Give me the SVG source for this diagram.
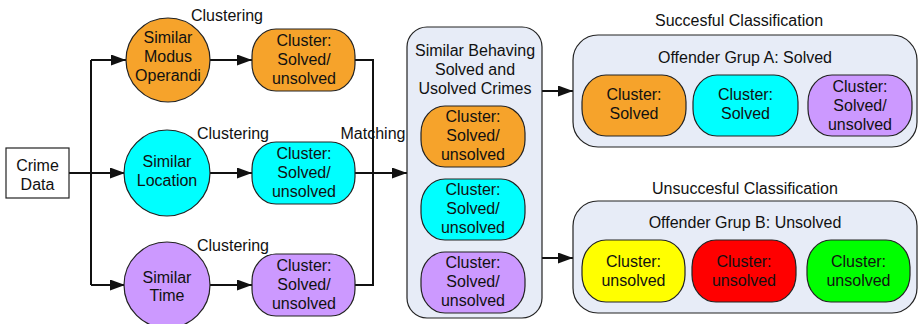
<svg xmlns="http://www.w3.org/2000/svg" width="919" height="324" viewBox="0 0 919 324">
  <defs>
    <marker id="arrow" markerWidth="15" markerHeight="11" refX="15" refY="5.5" orient="auto" markerUnits="userSpaceOnUse">
      <path d="M0,0 L15,5.5 L0,11 Z" fill="#111"/>
    </marker>
    <style>
      text { font-family: "Liberation Sans", Arial, sans-serif; font-size: 16px; fill: #111; text-anchor: middle; }
      .shape { stroke: #222; stroke-width: 1.2; }
      .orange { fill: #F6A32B; }
      .cyan { fill: #00FFFF; }
      .purple { fill: #CC99FF; }
      .yellow { fill: #FFFF00; }
      .red { fill: #FF0000; }
      .green { fill: #00FF00; }
      .panel { fill: #E7ECF7; stroke: #222; stroke-width: 1.2; }
      .link { fill: none; stroke: #111; stroke-width: 2; }
      .arr { marker-end: url(#arrow); }
    </style>
  </defs>
  <rect width="919" height="324" fill="#fff"/>

  <!-- connectors -->
  <g id="connectors">
    <path class="link" d="M69,173 H91 M91,60 V285"/>
    <path class="link arr" d="M91,60 H126"/>
    <path class="link arr" d="M91,173 H125"/>
    <path class="link arr" d="M91,285 H125"/>
    <path class="link arr" d="M210,60 H252"/>
    <path class="link arr" d="M210,173 H252"/>
    <path class="link arr" d="M210,285 H252"/>
    <path class="link" d="M355,60 H373 V285 H355"/>
    <path class="link arr" d="M355,173 H407"/>
    <path class="link arr" d="M542,91 H573"/>
    <path class="link arr" d="M542,258 H573"/>
  </g>

  <!-- source -->
  <g id="crime-data">
    <rect x="6" y="148" width="63" height="50" fill="#fff" class="shape"/>
    <text x="37.5" y="171">Crime</text>
    <text x="37.5" y="190">Data</text>
  </g>

  <!-- similarity criteria -->
  <g id="modus">
    <circle cx="168" cy="60" r="42" class="shape orange"/>
    <text x="168" y="43">Similar</text>
    <text x="168" y="62">Modus</text>
    <text x="168" y="81">Operandi</text>
  </g>
  <g id="location">
    <circle cx="167" cy="173" r="43" class="shape cyan"/>
    <text x="167" y="167">Similar</text>
    <text x="167" y="186">Location</text>
  </g>
  <g id="time">
    <circle cx="167" cy="285" r="43" class="shape purple"/>
    <text x="167" y="283">Similar</text>
    <text x="167" y="301">Time</text>
  </g>

  <!-- edge labels -->
  <g id="labels">
    <text x="227" y="20.5">Clustering</text>
    <text x="233" y="139">Clustering</text>
    <text x="233" y="251">Clustering</text>
    <text x="373" y="139">Matching</text>
  </g>

  <!-- cluster results -->
  <g id="cluster-modus">
    <rect x="252" y="29" width="103" height="62" rx="24" ry="27" class="shape orange"/>
    <text x="304" y="46">Cluster:</text>
    <text x="304" y="65">Solved/</text>
    <text x="304" y="84">unsolved</text>
  </g>
  <g id="cluster-location">
    <rect x="252" y="142" width="103" height="62" rx="24" ry="27" class="shape cyan"/>
    <text x="304" y="159">Cluster:</text>
    <text x="304" y="178">Solved/</text>
    <text x="304" y="197">unsolved</text>
  </g>
  <g id="cluster-time">
    <rect x="252" y="254" width="103" height="62" rx="24" ry="27" class="shape purple"/>
    <text x="304" y="271">Cluster:</text>
    <text x="304" y="290">Solved/</text>
    <text x="304" y="309">unsolved</text>
  </g>

  <!-- matched crimes -->
  <g id="similar-behaving">
    <rect x="407" y="27" width="135" height="291" rx="20" class="panel"/>
    <text x="475" y="56">Similar Behaving</text>
    <text x="475" y="75">Solved and</text>
    <text x="475" y="94">Usolved Crimes</text>
    <rect x="421" y="106" width="104" height="61" rx="24" ry="27" class="shape orange"/>
    <text x="473" y="122">Cluster:</text>
    <text x="473" y="141">Solved/</text>
    <text x="473" y="160">unsolved</text>
    <rect x="421" y="179" width="104" height="61" rx="24" ry="27" class="shape cyan"/>
    <text x="473" y="195">Cluster:</text>
    <text x="473" y="214">Solved/</text>
    <text x="473" y="233">unsolved</text>
    <rect x="421" y="252" width="104" height="61" rx="24" ry="27" class="shape purple"/>
    <text x="473" y="268">Cluster:</text>
    <text x="473" y="287">Solved/</text>
    <text x="473" y="306">unsolved</text>
  </g>

  <!-- successful classification -->
  <g id="group-a">
    <text x="739" y="26">Succesful Classification</text>
    <rect x="573" y="35" width="344" height="112" rx="25" class="panel"/>
    <text x="745" y="63">Offender Grup A: Solved</text>
    <rect x="582" y="75" width="104" height="61" rx="24" ry="27" class="shape orange"/>
    <text x="634" y="100">Cluster:</text>
    <text x="634" y="119">Solved</text>
    <rect x="693" y="75" width="105" height="61" rx="24" ry="27" class="shape cyan"/>
    <text x="745.5" y="100">Cluster:</text>
    <text x="745.5" y="119">Solved</text>
    <rect x="808" y="75" width="104" height="61" rx="24" ry="27" class="shape purple"/>
    <text x="860" y="92">Cluster:</text>
    <text x="860" y="111">Solved/</text>
    <text x="860" y="130">unsolved</text>
  </g>

  <!-- unsuccessful classification -->
  <g id="group-b">
    <text x="745" y="194">Unsuccesful Classification</text>
    <rect x="573" y="201" width="344" height="112" rx="25" class="panel"/>
    <text x="745" y="228">Offender Grup B: Unsolved</text>
    <rect x="582" y="240" width="103" height="62" rx="24" ry="27" class="shape yellow"/>
    <text x="633.5" y="267">Cluster:</text>
    <text x="633.5" y="286">unsolved</text>
    <rect x="692" y="240" width="104" height="62" rx="24" ry="27" class="shape red"/>
    <text x="744" y="267">Cluster:</text>
    <text x="744" y="286">unsolved</text>
    <rect x="807" y="240" width="103" height="62" rx="24" ry="27" class="shape green"/>
    <text x="858.5" y="267">Cluster:</text>
    <text x="858.5" y="286">unsolved</text>
  </g>
</svg>
